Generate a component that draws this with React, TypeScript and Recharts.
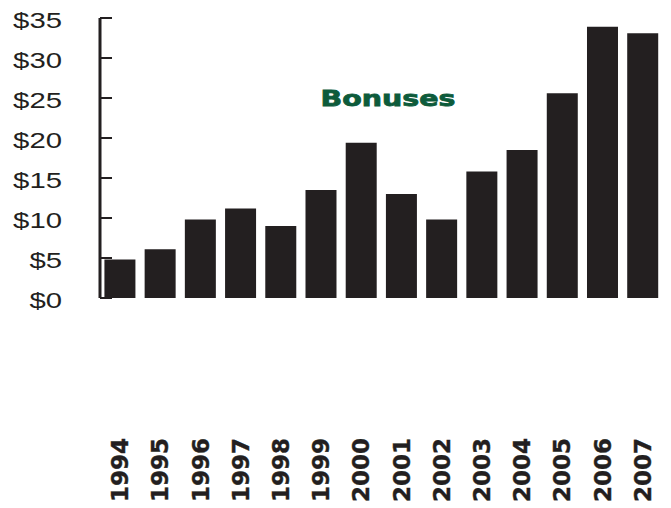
import { BarChart, Bar, XAxis, YAxis } from 'recharts';

const years = ['1994', '1995', '1996', '1997', '1998', '1999', '2000', '2001', '2002', '2003', '2004', '2005', '2006', '2007'];
const bonuses = [4.8, 6.1, 9.8, 11.2, 9.0, 13.5, 19.4, 13.0, 9.8, 15.8, 18.5, 25.6, 33.9, 33.1];
const yTicks = [0, 5, 10, 15, 20, 25, 30, 35];
const boundaryTicks = [1, 2, 3, 4, 5, 6, 7, 8, 9, 10, 11, 12, 13, 14];

const data = years.map((year, i) => ({ year, bonus: bonuses[i] }));

const ink = '#231f20';

function YearTick({ x, y, payload }: any) {
  return (
    <text
      x={x}
      y={y}
      transform={`rotate(-90 ${x} ${y})`}
      textAnchor="start"
      dominantBaseline="central"
      fill={ink}
      stroke={ink}
      strokeWidth={0.4}
      fontFamily="DejaVu Sans"
      fontWeight="bold"
      fontSize={23}
    >
      {payload.value}
    </text>
  );
}

// the source face is a wide Helvetica, so stretch each label a little
function DollarTick({ x, y, payload }: any) {
  const label = '$' + payload.value;
  return (
    <text
      x={x}
      y={y}
      dy={2}
      textAnchor="end"
      dominantBaseline="central"
      fill={ink}
      fontFamily="Liberation Sans"
      fontSize={22}
      textLength={label.length * 16.3}
      lengthAdjust="spacingAndGlyphs"
    >
      {label}
    </text>
  );
}

export default function App() {
  return (
    <div style={{ position: 'absolute', left: 0, top: 0, width: 671, height: 508 }}>
      <BarChart
        width={671}
        height={508}
        data={data}
        margin={{ top: 18, right: 8, bottom: 0, left: 0 }}
        barCategoryGap="11%"
      >
        <XAxis
          xAxisId="edges"
          type="number"
          domain={[0, 14]}
          ticks={boundaryTicks}
          allowDataOverflow
          height={0}
          tickSize={-7}
          tick={() => <g />}
          axisLine={{ stroke: ink, strokeWidth: 3 }}
          tickLine={{ stroke: ink, strokeWidth: 4 }}
        />
        <XAxis
          dataKey="year"
          height={210}
          axisLine={false}
          tickLine={false}
          tickSize={0}
          tickMargin={204}
          interval={0}
          tick={<YearTick />}
        />
        <YAxis
          width={100}
          domain={[0, 35]}
          ticks={yTicks}
          tickSize={-12}
          tickMargin={50}
          tick={<DollarTick />}
          axisLine={{ stroke: ink, strokeWidth: 3 }}
          tickLine={{ stroke: ink, strokeWidth: 2 }}
        />
        <Bar dataKey="bonus" fill={ink} isAnimationActive={false} />
      </BarChart>
      <svg width={671} height={508} style={{ position: 'absolute', left: 0, top: 0, pointerEvents: 'none' }}>
        <text
          x={388}
          y={106}
          textAnchor="middle"
          textLength={135}
          lengthAdjust="spacingAndGlyphs"
          fill="#0d5b3b"
          stroke="#0d5b3b"
          strokeWidth={0.8}
          fontFamily="DejaVu Sans"
          fontWeight="bold"
          fontSize={22}
        >
          Bonuses
        </text>
      </svg>
    </div>
  );
}
